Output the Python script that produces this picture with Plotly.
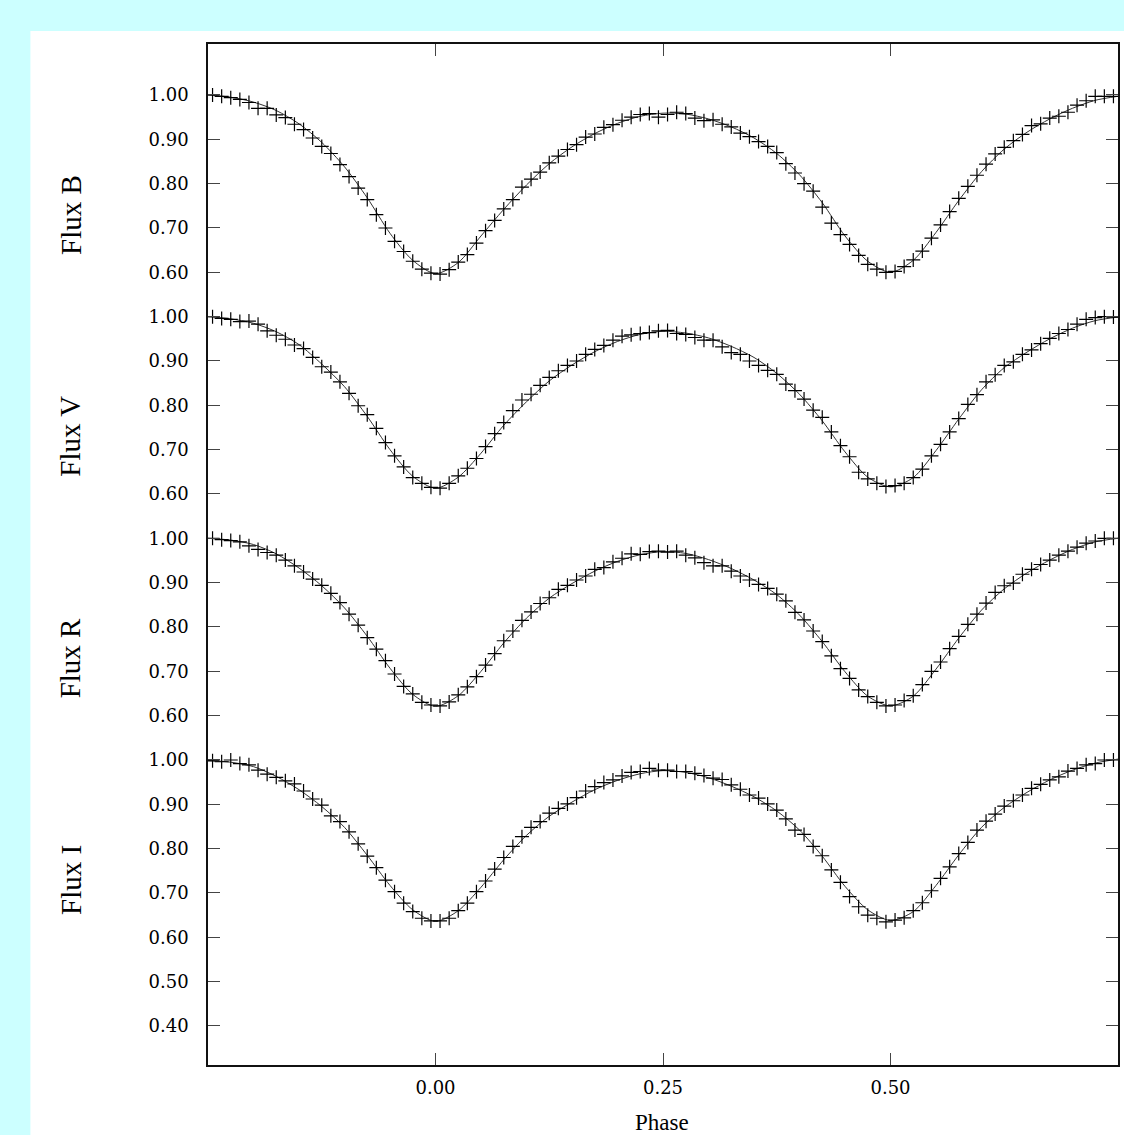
import plotly.graph_objects as go

# ---------------- data ----------------
data_phase = [
    -0.245, -0.235, -0.225, -0.215, -0.205, -0.195, -0.185, -0.175, -0.165, -0.155,
    -0.145, -0.135, -0.125, -0.115, -0.105, -0.095, -0.085, -0.075, -0.065, -0.055,
    -0.045, -0.035, -0.025, -0.015, -0.005, 0.005, 0.015, 0.025, 0.035, 0.045,
    0.055, 0.065, 0.075, 0.085, 0.095, 0.105, 0.115, 0.125, 0.135, 0.145,
    0.155, 0.165, 0.175, 0.185, 0.195, 0.205, 0.215, 0.225, 0.235, 0.245,
    0.255, 0.265, 0.275, 0.285, 0.295, 0.305, 0.315, 0.325, 0.335, 0.345,
    0.355, 0.365, 0.375, 0.385, 0.395, 0.405, 0.415, 0.425, 0.435, 0.445,
    0.455, 0.465, 0.475, 0.485, 0.495, 0.505, 0.515, 0.525, 0.535, 0.545,
    0.555, 0.565, 0.575, 0.585, 0.595, 0.605, 0.615, 0.625, 0.635, 0.645,
    0.655, 0.665, 0.675, 0.685, 0.695, 0.705, 0.715, 0.725, 0.735, 0.745,
]

flux_B = [
    1.000, 0.997, 0.994, 0.990, 0.983, 0.970, 0.970, 0.955, 0.949, 0.934,
    0.922, 0.903, 0.884, 0.868, 0.843, 0.816, 0.790, 0.764, 0.730, 0.700,
    0.670, 0.647, 0.625, 0.607, 0.598, 0.596, 0.606, 0.623, 0.640, 0.666,
    0.694, 0.717, 0.743, 0.764, 0.792, 0.810, 0.826, 0.847, 0.862, 0.877,
    0.888, 0.905, 0.912, 0.927, 0.933, 0.943, 0.950, 0.956, 0.958, 0.950,
    0.956, 0.961, 0.958, 0.948, 0.942, 0.944, 0.934, 0.928, 0.914, 0.906,
    0.895, 0.884, 0.870, 0.845, 0.824, 0.800, 0.783, 0.747, 0.711, 0.685,
    0.663, 0.638, 0.618, 0.607, 0.600, 0.602, 0.613, 0.628, 0.648, 0.677,
    0.707, 0.737, 0.767, 0.794, 0.819, 0.844, 0.867, 0.882, 0.897, 0.911,
    0.931, 0.935, 0.948, 0.952, 0.961, 0.977, 0.987, 0.997, 0.997, 0.997,
]

flux_V = [
    1.000, 0.996, 0.994, 0.989, 0.990, 0.983, 0.968, 0.958, 0.949, 0.936,
    0.928, 0.908, 0.887, 0.875, 0.853, 0.827, 0.799, 0.779, 0.748, 0.716,
    0.686, 0.661, 0.637, 0.624, 0.615, 0.613, 0.624, 0.641, 0.658, 0.680,
    0.707, 0.736, 0.761, 0.788, 0.812, 0.825, 0.845, 0.863, 0.878, 0.890,
    0.900, 0.915, 0.926, 0.935, 0.947, 0.956, 0.959, 0.962, 0.964, 0.968,
    0.969, 0.962, 0.960, 0.953, 0.947, 0.947, 0.932, 0.919, 0.915, 0.900,
    0.890, 0.879, 0.870, 0.848, 0.833, 0.814, 0.789, 0.773, 0.740, 0.709,
    0.684, 0.649, 0.634, 0.624, 0.617, 0.619, 0.624, 0.637, 0.656, 0.686,
    0.712, 0.740, 0.770, 0.802, 0.824, 0.853, 0.869, 0.890, 0.898, 0.915,
    0.925, 0.939, 0.951, 0.962, 0.971, 0.983, 0.994, 0.998, 1.000, 0.999,
]

flux_R = [
    1.000, 0.997, 0.995, 0.992, 0.983, 0.975, 0.968, 0.962, 0.951, 0.938,
    0.924, 0.908, 0.894, 0.876, 0.855, 0.829, 0.804, 0.776, 0.750, 0.724,
    0.694, 0.666, 0.649, 0.630, 0.624, 0.622, 0.631, 0.647, 0.665, 0.688,
    0.714, 0.740, 0.769, 0.791, 0.815, 0.834, 0.853, 0.866, 0.885, 0.894,
    0.906, 0.915, 0.930, 0.934, 0.947, 0.955, 0.965, 0.964, 0.970, 0.971,
    0.969, 0.971, 0.962, 0.956, 0.945, 0.938, 0.938, 0.926, 0.915, 0.906,
    0.896, 0.887, 0.874, 0.859, 0.833, 0.816, 0.791, 0.767, 0.735, 0.706,
    0.684, 0.658, 0.643, 0.630, 0.622, 0.624, 0.634, 0.645, 0.670, 0.700,
    0.721, 0.751, 0.779, 0.806, 0.829, 0.854, 0.878, 0.893, 0.899, 0.919,
    0.930, 0.941, 0.951, 0.962, 0.971, 0.980, 0.989, 0.994, 1.000, 1.000,
]

flux_I = [
    0.998, 0.996, 1.000, 0.992, 0.989, 0.977, 0.968, 0.961, 0.953, 0.946,
    0.930, 0.912, 0.898, 0.874, 0.861, 0.838, 0.811, 0.783, 0.757, 0.729,
    0.703, 0.677, 0.658, 0.643, 0.637, 0.637, 0.643, 0.660, 0.677, 0.703,
    0.727, 0.754, 0.780, 0.805, 0.827, 0.848, 0.861, 0.880, 0.891, 0.901,
    0.915, 0.930, 0.940, 0.949, 0.955, 0.964, 0.972, 0.974, 0.981, 0.977,
    0.977, 0.974, 0.974, 0.970, 0.965, 0.959, 0.956, 0.944, 0.934, 0.921,
    0.914, 0.901, 0.887, 0.867, 0.842, 0.832, 0.805, 0.784, 0.752, 0.724,
    0.692, 0.669, 0.650, 0.643, 0.635, 0.639, 0.644, 0.660, 0.678, 0.705,
    0.733, 0.759, 0.789, 0.814, 0.842, 0.862, 0.878, 0.896, 0.908, 0.921,
    0.936, 0.945, 0.955, 0.962, 0.975, 0.981, 0.989, 0.992, 1.000, 1.000,
]

model_phase = [
    -0.250, -0.225, -0.200, -0.175, -0.150, -0.125, -0.100, -0.075, -0.050, -0.025,
    0.000, 0.025, 0.050, 0.075, 0.100, 0.125, 0.150, 0.175, 0.200, 0.225,
    0.250, 0.275, 0.300, 0.325, 0.350, 0.375, 0.400, 0.425, 0.450, 0.475,
    0.500, 0.525, 0.550, 0.575, 0.600, 0.625, 0.650, 0.675, 0.700, 0.725,
    0.750,
]

model_B = [
    1.000, 0.995, 0.984, 0.965, 0.935, 0.893, 0.838, 0.768, 0.688, 0.627,
    0.597, 0.622, 0.682, 0.742, 0.797, 0.845, 0.883, 0.913, 0.936, 0.952,
    0.959, 0.957, 0.946, 0.928, 0.903, 0.868, 0.820, 0.757, 0.682, 0.625,
    0.600, 0.627, 0.690, 0.762, 0.827, 0.878, 0.916, 0.946, 0.970, 0.988,
    0.997,
]

model_V = [
    1.000, 0.995, 0.985, 0.966, 0.937, 0.893, 0.842, 0.775, 0.700, 0.640,
    0.613, 0.638, 0.692, 0.755, 0.808, 0.855, 0.891, 0.921, 0.944, 0.960,
    0.967, 0.963, 0.952, 0.933, 0.908, 0.872, 0.825, 0.765, 0.695, 0.638,
    0.616, 0.637, 0.698, 0.769, 0.835, 0.885, 0.920, 0.950, 0.974, 0.991,
    0.999,
]

model_R = [
    1.000, 0.996, 0.986, 0.965, 0.933, 0.893, 0.843, 0.779, 0.707, 0.648,
    0.621, 0.645, 0.700, 0.764, 0.820, 0.865, 0.898, 0.926, 0.948, 0.963,
    0.970, 0.966, 0.952, 0.932, 0.906, 0.873, 0.827, 0.767, 0.699, 0.644,
    0.622, 0.644, 0.705, 0.775, 0.838, 0.886, 0.922, 0.951, 0.975, 0.992,
    1.000,
]

model_I = [
    0.999, 0.995, 0.985, 0.963, 0.933, 0.895, 0.848, 0.785, 0.717, 0.662,
    0.636, 0.660, 0.713, 0.775, 0.830, 0.873, 0.905, 0.933, 0.954, 0.969,
    0.976, 0.972, 0.960, 0.941, 0.917, 0.885, 0.842, 0.783, 0.715, 0.662,
    0.638, 0.658, 0.717, 0.786, 0.848, 0.893, 0.927, 0.955, 0.977, 0.993,
    1.002,
]

band_names = ["Flux B", "Flux V", "Flux R", "Flux I"]
panel_ticks = [0.60, 0.70, 0.80, 0.90, 1.00]
extra_ticks_I = [0.40, 0.50]
x_tick_vals = [0.00, 0.25, 0.50]
x_tick_text = ["0.00", "0.25", "0.50"]

# ---------------- styling / layout ----------------
offsets = [1.5, 1.0, 0.5, 0.0]
data_sets = [flux_B, flux_V, flux_R, flux_I]
model_sets = [model_B, model_V, model_R, model_I]

W, H = 1124, 1135
L, R, T, B = 208, 4, 44, 70

fig = go.Figure()

for name, off, d, m in zip(band_names, offsets, data_sets, model_sets):
    fig.add_trace(go.Scatter(
        x=model_phase, y=[v + off for v in m], mode="lines",
        line=dict(color="#333333", width=1, shape="spline", smoothing=0.8),
        showlegend=False, hoverinfo="skip"))
    fig.add_trace(go.Scatter(
        x=data_phase, y=[v + off for v in d], mode="markers",
        marker=dict(symbol="cross-thin", size=10, line=dict(color="black", width=1.2)),
        showlegend=False, name=name))

tickvals, ticktext = [], []
for off, name in zip(offsets, band_names):
    vals = panel_ticks + (extra_ticks_I if name == "Flux I" else [])
    for v in vals:
        tickvals.append(v + off)
        ticktext.append(f"{v:.2f}")

font_ticks = dict(family="DejaVu Serif", size=18, color="black")

fig.update_xaxes(
    range=[-0.25, 0.75], tickvals=x_tick_vals, ticktext=x_tick_text,
    ticks="inside", ticklen=12, tickwidth=1, tickcolor="#444444",
    showline=True, linecolor="#111111", linewidth=1.5, mirror="ticks",
    showgrid=False, zeroline=False, tickfont=font_ticks, ticklabelstandoff=6)
fig.update_yaxes(
    range=[0.312, 2.615], tickvals=tickvals, ticktext=ticktext,
    ticks="inside", ticklen=12, tickwidth=1, tickcolor="#444444",
    showline=True, linecolor="#111111", linewidth=1.5, mirror="ticks",
    showgrid=False, zeroline=False, tickfont=font_ticks, ticklabelstandoff=14)

plot_w = W - L - R
plot_h = H - T - B

shapes = [dict(type="rect", xref="paper", yref="paper", layer="below",
               x0=(30 - L) / plot_w, x1=(W + 5 - L) / plot_w,
               y0=(H - B - H - 5) / plot_h, y1=(H - B - 31) / plot_h,
               fillcolor="white", line=dict(width=0))]

annotations = []
for name, off in zip(band_names, offsets):
    annotations.append(dict(
        text=name, xref="paper", yref="y", x=(70 - L) / plot_w, y=off + 0.73,
        showarrow=False, textangle=-90, xanchor="center", yanchor="middle",
        font=dict(family="Liberation Serif", size=29, color="black")))
annotations.append(dict(
    text="Phase", xref="paper", yref="paper", x=(663 - L) / plot_w,
    y=(H - B - 1122) / plot_h, showarrow=False, xanchor="center", yanchor="middle",
    font=dict(family="Liberation Serif", size=23, color="black")))

fig.update_layout(
    width=W, height=H, margin=dict(l=L, r=R, t=T, b=B, pad=0),
    paper_bgcolor="#ccffff", plot_bgcolor="white",
    shapes=shapes, annotations=annotations, showlegend=False)

fig.write_html("out.html", config={"displayModeBar": False},
               post_script="document.body.style.margin='0';document.body.style.background='#ccffff';")
